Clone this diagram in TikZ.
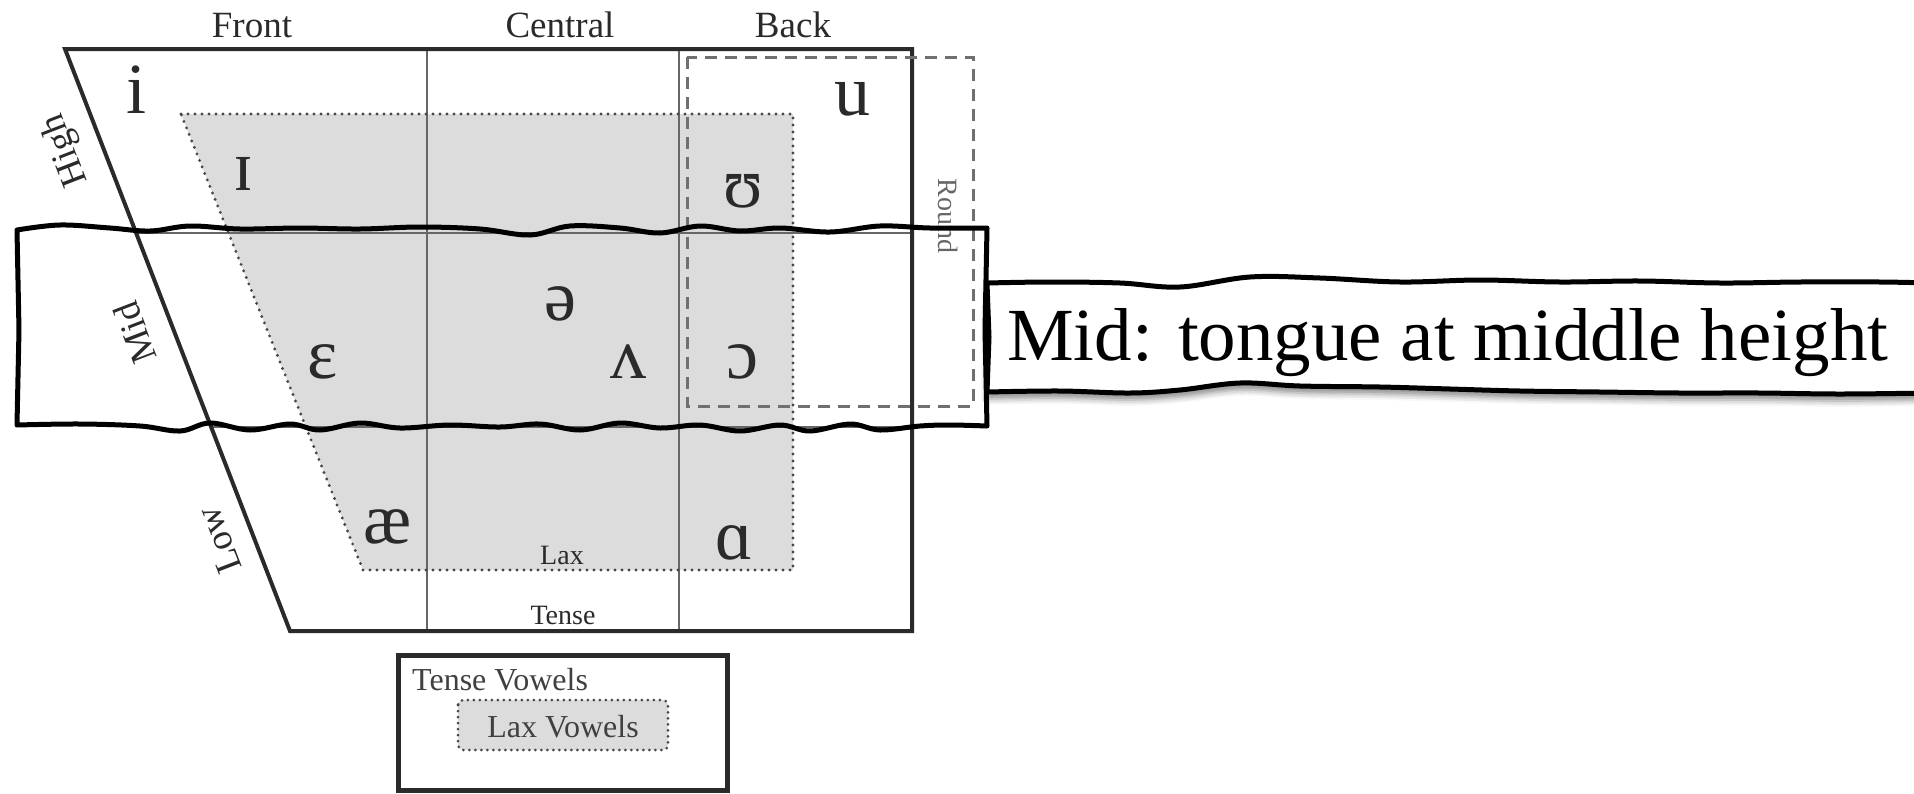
\documentclass[tikz,border=0pt]{standalone}
\usepackage{fontspec}
\setmainfont{Liberation Serif}
\usetikzlibrary{shadows.blur}
\definecolor{laxgray}{HTML}{DCDCDC}
\definecolor{ink}{HTML}{2A2A2A}
\definecolor{dashgray}{HTML}{707070}
\begin{document}
\begin{tikzpicture}[x=1pt,y=-1pt,
  lbl/.style={font=\fontsize{37}{40}\selectfont, text=ink, inner sep=0pt},
  vow/.style={font=\fontsize{72}{74}\selectfont, text=ink, inner sep=0pt, anchor=base},
  smalllbl/.style={font=\fontsize{28}{30}\selectfont, text=ink, inner sep=0pt, anchor=base},
  legendlbl/.style={font=\fontsize{32}{34}\selectfont, text=black!75, inner sep=0pt, anchor=base},
  outerline/.style={draw=ink, line width=4pt, line join=miter},
  gridline/.style={draw=black!60, line width=1.5pt},
  laxregion/.style={draw=black!72, line width=3.2pt, line cap=round, dash pattern=on 0pt off 7pt},
  roundbox/.style={draw=dashgray, line width=3pt, dash pattern=on 12pt off 8pt},
  wavy/.style={draw=black, line width=5pt, line join=round, line cap=round},
  callouttext/.style={font=\fontsize{75}{80}\selectfont, text=black, inner sep=0pt, anchor=base west}
]
\useasboundingbox (0,0) rectangle (1914,793);

% chart corners
\coordinate (TL) at (65,49);
\coordinate (TR) at (912,49);
\coordinate (BR) at (912,631);
\coordinate (BL) at (290,631);

% lax region
\coordinate (LTL) at (181,114);
\coordinate (LTR) at (793,114);
\coordinate (LBR) at (793,570);
\coordinate (LBL) at (363,570);
\fill[laxgray] (LTL) -- (LTR) -- (LBR) -- (LBL) -- cycle;

% grid lines
\coordinate (V1t) at (427,49);  \coordinate (V1b) at (427,631);
\coordinate (V2t) at (679,49);  \coordinate (V2b) at (679,631);
\coordinate (H1l) at (136,233); \coordinate (H1r) at (912,233);
\coordinate (H2l) at (211,427); \coordinate (H2r) at (912,427);
\draw[gridline] (V1t) -- (V1b);
\draw[gridline] (V2t) -- (V2b);
\draw[gridline] (H1l) -- (H1r);
\draw[gridline] (H2l) -- (H2r);

\draw[laxregion] (LTL) -- (LTR) -- (LBR) -- (LBL) -- cycle;

% outer chart
\draw[outerline] (TL) -- (TR) -- (BR) -- (BL) -- cycle;

% round dashed box
\coordinate (RTL) at (687,57);
\coordinate (RBR) at (973,406);
\draw[roundbox] (RTL) rectangle (RBR);

% column labels
\node[lbl, anchor=base] (front) at (252,37) {Front};
\node[lbl, anchor=base] (central) at (560,37) {Central};
\node[lbl, anchor=base] (back) at (793,37) {Back};

% row labels
\node[lbl, rotate=111] (high) at (66,150) {High};
\node[lbl, rotate=111] (mid) at (135,333) {Mid};
\node[lbl, rotate=111] (low) at (219,540) {Low};

\node[font=\fontsize{28}{30}\selectfont, text=black!60, inner sep=0pt, rotate=-90] (round) at (948,216) {Round};

% vowels
\node[vow] (vi) at (137,113) {i};
\node[vow] (vsmi) at (243,190) {ɪ};
\node[vow] (vu) at (852,115) {u};
\node[vow] (vups) at (743,207) {ʊ};
\node[vow] (vschwa) at (560,320) {ə};
\node[vow] (veps) at (323,378) {ɛ};
\node[vow] (vwedge) at (628,378) {ʌ};
\node[vow] (vopen) at (742,378) {ɔ};
\node[vow] (vae) at (388,543) {æ};
\node[vow] (valpha) at (734,559) {ɑ};

\node[smalllbl] (laxlbl) at (562,564) {Lax};
\node[smalllbl] (tenselbl) at (563,624) {Tense};

% legend
\coordinate (GTL) at (398,655);
\coordinate (GBR) at (727,790);
\draw[draw=ink, line width=5pt] (GTL) rectangle (GBR);
\node[legendlbl, anchor=base west] (tensev) at (412,690) {Tense Vowels};
\coordinate (LVTL) at (458,700);
\coordinate (LVBR) at (668,750);
\fill[laxgray, rounded corners=5pt] (LVTL) rectangle (LVBR);
\draw[draw=black!72, line width=3pt, line cap=round, dash pattern=on 0pt off 6pt, rounded corners=5pt] (LVTL) rectangle (LVBR);
\node[legendlbl] (laxv) at (563,737) {Lax Vowels};

% highlight band (hand drawn)
\draw[wavy]
  plot[smooth, tension=0.6] coordinates {(17,230) (60,225) (110,228) (150,231) (190,226) (240,229) (300,228) (360,229) (420,227) (480,229) (530,235) (570,226) (620,228) (660,233) (700,226) (740,231) (780,228) (830,232) (880,226) (930,228) (987,228)}
  -- (985,330) -- (987,426)
  -- plot[smooth, tension=0.6] coordinates {(987,426) (950,425) (920,426) (880,430) (850,424) (810,431) (780,425) (740,431) (700,425) (660,428) (620,423) (580,430) (540,424) (500,427) (450,425) (400,428) (360,423) (320,430) (290,424) (250,430) (210,423) (180,431) (140,426) (80,424) (17,425)}
  -- (19,330) -- cycle;

% callout
\path[blur shadow={shadow xshift=0pt, shadow yshift=-7pt, shadow blur radius=6pt, shadow opacity=45}, fill=white]
  plot[smooth, tension=0.6] coordinates {(987,283) (1050,282) (1120,283) (1180,287) (1250,277) (1320,278) (1400,282) (1480,280) (1560,282) (1640,281) (1720,283) (1800,282) (1880,282) (1930,283)}
  -- (1930,393)
  -- plot[smooth, tension=0.6] coordinates {(1930,393) (1840,394) (1760,393) (1680,393) (1600,392) (1520,391) (1450,389) (1380,387) (1300,386) (1240,383) (1180,390) (1130,393) (1060,391) (987,392)}
  -- cycle;
\draw[wavy]
  plot[smooth, tension=0.6] coordinates {(1930,283) (1880,282) (1800,282) (1720,283) (1640,281) (1560,282) (1480,280) (1400,282) (1320,278) (1250,277) (1180,287) (1120,283) (1050,282) (987,283)}
  -- (989,337) -- (987,392)
  -- plot[smooth, tension=0.6] coordinates {(987,392) (1060,391) (1130,393) (1180,390) (1240,383) (1300,386) (1380,387) (1450,389) (1520,391) (1600,392) (1680,393) (1760,393) (1840,394) (1930,393)};
\node[callouttext] (callout) at (1007,360) {Mid: tongue at middle height};
\end{tikzpicture}
\end{document}
